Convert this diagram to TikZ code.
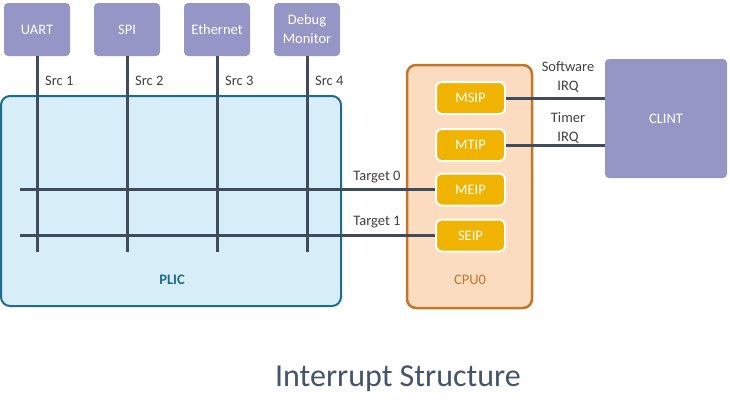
\documentclass[tikz,border=0pt]{standalone}
\usepackage{fontspec}
\setmainfont{Carlito}
\usetikzlibrary{positioning}

\definecolor{devfill}{RGB}{150,150,198}
\definecolor{plicfill}{RGB}{215,238,249}
\definecolor{plicdraw}{RGB}{30,107,140}
\definecolor{cpufill}{RGB}{251,220,192}
\definecolor{cpudraw}{RGB}{196,118,40}
\definecolor{regfill}{RGB}{240,180,0}
\definecolor{wirecol}{RGB}{62,76,94}
\definecolor{labelcol}{RGB}{64,64,64}
\definecolor{titlecol}{RGB}{68,84,106}

\tikzset{
    dev/.style={fill=devfill, rounded corners=4pt, minimum width=66pt, minimum height=53pt, text=white, align=center, inner sep=2pt},
    reg/.style={draw=white, line width=2pt, fill=regfill, rounded corners=6pt, minimum width=69pt, minimum height=32pt, text=white},
    wire/.style={line width=3pt, draw=wirecol},
    lbl/.style={text=labelcol, inner sep=1pt},
}

\begin{document}
\begin{tikzpicture}[x=1pt, y=-1pt, font=\fontsize{14.5}{19}\selectfont]
        \useasboundingbox (0,0) rectangle (730,413);
        % PLIC and CPU boxes
        \node[draw=plicdraw, line width=2pt, fill=plicfill, rounded corners=9pt, minimum width=340pt, minimum height=210pt] (plic) at (171,201) {};
        \node[font=\fontsize{14.5}{19}\selectfont\bfseries, text=plicdraw] (pliclabel) at (172,280) {PLIC};
        \node[draw=cpudraw, line width=2.5pt, fill=cpufill, rounded corners=9pt, minimum width=125pt, minimum height=243pt] (cpu) at (469.5,186.5) {};
        \node[text=cpudraw] (cpulabel) at (470,280) {CPU0};
        % interrupt sources, wires down into the PLIC
        \foreach \name/\txt [count=\i] in {uart/UART, spi/SPI, eth/Ethernet, dbg/{Debug\\Monitor}} {
            \pgfmathsetmacro{\x}{37+90*(\i-1)}
            \node[dev] (\name) at (\x,29.5) {\txt};
            \coordinate (\name end) at (\x,252);
            \draw[wire] (\name) -- (\name end);
            \node[lbl, anchor=west] (src\i) at (\x+7,81) {Src \i};
        }
        % pending bits
        \node[reg] (msip) at (470.5,98) {MSIP};
        \node[reg] (mtip) at (470.5,145) {MTIP};
        \node[reg] (meip) at (470.5,189.5) {MEIP};
        \node[reg] (seip) at (470.5,235.5) {SEIP};
        % target lines
        \coordinate (t0) at (20,189.5);
        \coordinate (t1) at (20,235.5);
        \draw[wire] (t0) -- (meip.west);
        \draw[wire] (t1) -- (seip.west);
        \node[lbl] (t0label) at (377,177) {Target 0};
        \node[lbl] (t1label) at (377,222) {Target 1};
        % CLINT
        \node[dev, minimum width=122pt, minimum height=119pt] (clint) at (666,118.5) {CLINT};
        \draw[wire] (msip.east) -- (msip.east -| clint.west);
        \draw[wire] (mtip.east) -- (mtip.east -| clint.west);
        \node[lbl, align=center] (swlabel) at (568,77) {Software\\IRQ};
        \node[lbl, align=center] (tmlabel) at (568,128) {Timer\\IRQ};
        % caption
        \node[text=titlecol, font=\fontsize{32}{36}\selectfont] (title) at (398,379) {Interrupt Structure};
    \end{tikzpicture}
\end{document}
